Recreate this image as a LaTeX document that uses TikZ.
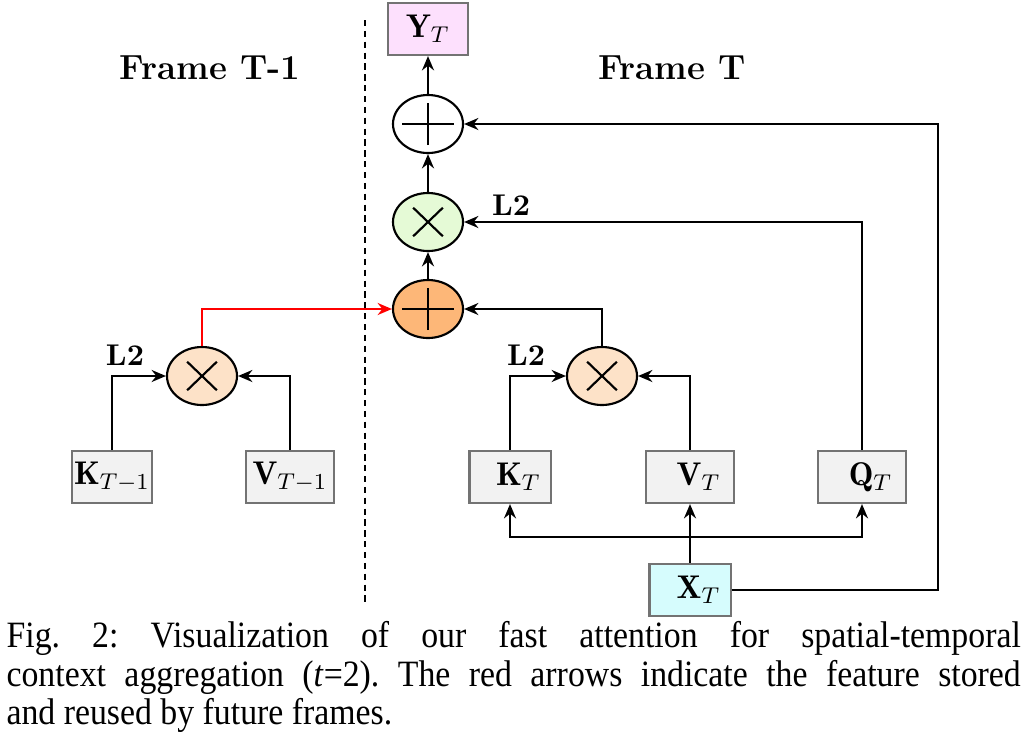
\documentclass[tikz,border=0pt]{standalone}
\usepackage{fontspec}
\usepackage{amsmath}
\usetikzlibrary{shapes.geometric,arrows.meta}
\newfontfamily\capfont[FakeStretch=0.91]{Liberation Serif}
\definecolor{boxgray}{RGB}{242,242,242}
\definecolor{boxedge}{RGB}{115,115,115}
\definecolor{pinkfill}{RGB}{253,224,253}
\definecolor{greenfill}{RGB}{229,250,214}
\definecolor{orangefill}{RGB}{253,183,120}
\definecolor{peachfill}{RGB}{253,226,200}
\definecolor{cyanfill}{RGB}{214,252,253}
\tikzset{
  px/.style={x=0.35pt,y=-0.35pt},
  conn/.style={line width=0.75pt,-{Stealth[length=5pt,width=4.2pt]}},
  featbox/.style={rectangle,draw=boxedge,line width=0.75pt,fill=boxgray,minimum height=18.2pt,inner sep=0pt,font=\fontsize{11.5}{13}\selectfont},
  opnode/.style={ellipse,draw,line width=0.75pt,minimum width=24.5pt,minimum height=20.3pt,inner sep=0pt},
  plusop/.style={opnode,path picture={
      \draw[line width=0.75pt] ([xshift=-9pt]path picture bounding box.center) -- ([xshift=9pt]path picture bounding box.center);
      \draw[line width=0.75pt] ([yshift=-7.4pt]path picture bounding box.center) -- ([yshift=7.4pt]path picture bounding box.center);}},
  timesop/.style={opnode,path picture={
      \draw[line width=0.75pt] ([shift={(-5.2pt,-5pt)}]path picture bounding box.center) -- ([shift={(5.2pt,5pt)}]path picture bounding box.center);
      \draw[line width=0.75pt] ([shift={(-5.2pt,5pt)}]path picture bounding box.center) -- ([shift={(5.2pt,-5pt)}]path picture bounding box.center);}},
  title/.style={font=\fontsize{12.2}{14}\selectfont\bfseries},
  lbl/.style={font=\fontsize{10.5}{12}\selectfont\bfseries},
}
\begin{document}
\begin{tikzpicture}[px]
\useasboundingbox (0,0) rectangle (1022,747);
% divider
\draw[line width=0.6pt,dash pattern=on 2.2pt off 1.6pt] (365,20) -- (365,602);
% titles
\node[title] (tl) at (210,68) {Frame T-1};
\node[title] (tr) at (672,68) {Frame T};
% output
\node[featbox,fill=pinkfill,minimum width=28pt] (yt) at (428,29) {$\mathbf{Y}_T$};
\node[plusop,fill=white] (psum) at (428,124) {};
\node[timesop,fill=greenfill] (mq) at (428,222) {};
\node[plusop,fill=orangefill] (pagg) at (428,309) {};
% left frame
\node[timesop,fill=peachfill] (ml) at (202,376) {};
\node[featbox,minimum width=28pt] (kl) at (112,477) {$\mathbf{K}_{T-1}$};
\node[featbox,minimum width=31pt] (vl) at (290,477) {$\mathbf{V}_{T-1}$};
% right frame
\node[timesop,fill=peachfill] (mr) at (602,376) {};
\node[featbox,minimum width=28.4pt] (kt) at (510,477) {\hspace*{6pt}$\mathbf{K}_T$};
\node[featbox,minimum width=31pt] (vt) at (690,477) {\hspace*{6pt}$\mathbf{V}_T$};
\node[featbox,minimum width=31pt] (qt) at (862,477) {\hspace*{6pt}$\mathbf{Q}_T$};
\node[featbox,fill=cyanfill,minimum width=28.4pt] (xt) at (690,590) {\hspace*{6pt}$\mathbf{X}_T$};
\coordinate (split) at (690,537);
\coordinate (rail) at (938,0);
% connectors
\draw[conn] (pagg) -- (mq);
\draw[conn] (mq) -- (psum);
\draw[conn] (psum) -- (yt);
\draw[conn] (kl.north) |- (ml.west);
\draw[conn] (vl.north) |- (ml.east);
\draw[conn,red] (ml.north) |- (pagg.west);
\draw[conn] (kt.north) |- (mr.west);
\draw[conn] (vt.north) |- (mr.east);
\draw[conn] (mr.north) |- (pagg.east);
\draw[conn] (qt.north) |- (mq.east);
\draw[conn] (xt.north) -- (vt.south);
\draw[conn] (split) -| (kt.south);
\draw[conn] (split) -| (qt.south);
\draw[conn] (xt.east) -| (rail |- psum) -- (psum.east);
% labels
\node[lbl] (l2a) at (125,355) {L2};
\node[lbl] (l2b) at (526,355) {L2};
\node[lbl] (l2c) at (511,205) {L2};
% caption
\node[anchor=north west,inner sep=0pt,text width=355pt,align=justify,font=\capfont\fontsize{13}{13.5}\selectfont\frenchspacing] (cap) at (6,621)
{Fig.\ 2: Visualization of our fast attention for spatial-temporal\linebreak
context aggregation (\textit{t}=2). The red arrows indicate the feature stored\linebreak
and reused by future frames.};
\end{tikzpicture}
\end{document}
